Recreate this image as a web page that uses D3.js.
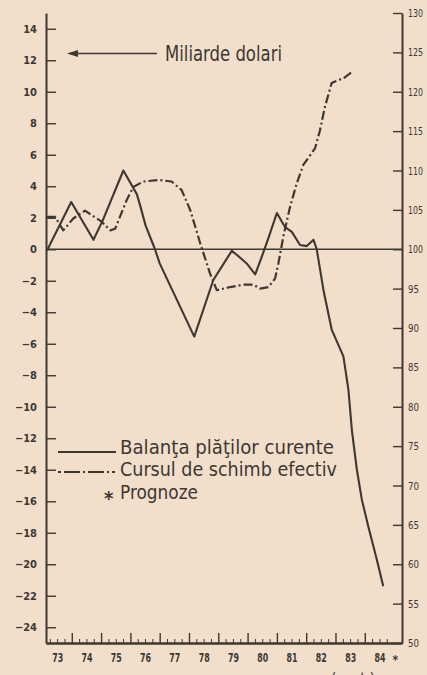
<!DOCTYPE html>
<html>
<head>
<meta charset="utf-8">
<script src="https://cdn.jsdelivr.net/npm/d3@7"></script>
<style>
  body { margin: 0; background: #f1dfcc; }
  svg { display: block; }
  text { font-family: "DejaVu Sans Condensed", "Liberation Sans Narrow", "DejaVu Sans", sans-serif; fill: #3e3732; }
</style>
</head>
<body>
<script>
// balanta platilor curente (miliarde dolari, axa stanga)
var balanceYears = [1973.15, 1973.98, 1974.74, 1975.05, 1975.76, 1976.22, 1976.33, 1976.52, 1976.84, 1977.0,
                    1978.18, 1978.83, 1979.12, 1979.46, 1979.63, 1979.97, 1980.26, 1980.48, 1980.71, 1981.0,
                    1981.28, 1981.51, 1981.79, 1982.02, 1982.25, 1982.36, 1982.59, 1982.87, 1983.27, 1983.44,
                    1983.56, 1983.73, 1983.90, 1984.12, 1984.41, 1984.63];
var balanceValues = [-0.1, 3.0, 0.6, 1.8, 5.0, 3.5, 2.8, 1.5, 0.0, -0.9,
                     -5.55, -1.95, -1.1, -0.1, -0.35, -0.9, -1.6, -0.5, 0.7, 2.3,
                     1.4, 1.1, 0.27, 0.2, 0.6, 0.0, -2.6, -5.1, -6.8, -8.9,
                     -11.5, -14.0, -15.9, -17.6, -19.7, -21.4];

// cursul de schimb efectiv (indice, axa dreapta)
var rateYears = [1973.15, 1973.43, 1973.71, 1974.05, 1974.45, 1975.02, 1975.31, 1975.48, 1975.88, 1976.10,
                 1976.44, 1976.96, 1977.41, 1977.75, 1978.04, 1978.38, 1978.72, 1978.95, 1979.40, 1979.86,
                 1980.20, 1980.43, 1980.71, 1980.94, 1981.05, 1981.22, 1981.45, 1981.68, 1981.90, 1982.30,
                 1982.47, 1982.64, 1982.87, 1983.10, 1983.27, 1983.56];
var rateValues = [104.1, 104.1, 102.4, 103.9, 104.9, 103.5, 102.4, 102.6, 106.3, 107.9,
                  108.6, 108.8, 108.6, 107.5, 105.0, 100.8, 96.9, 94.8, 95.2, 95.5,
                  95.5, 95.0, 95.2, 96.3, 98.2, 101.6, 105.4, 108.4, 110.7, 112.8,
                  115.1, 118.1, 121.1, 121.5, 121.7, 122.5];

var yearTicks = [1974, 1975, 1976, 1977, 1978, 1979, 1980, 1981, 1982, 1983, 1984];
var yearLabels = ["73", "74", "75", "76", "77", "78", "79", "80", "81", "82", "83", "84"];
var leftTicks = d3.range(-24, 15, 2);
var rightTicks = d3.range(50, 131, 5);

var width = 427,
    height = 675,
    ink = "#3e3732";

var svg = d3.select("body")
    .append("svg")
    .attr("width", width)
    .attr("height", height);

svg.append("rect")
    .attr("width", width)
    .attr("height", height)
    .attr("fill", "#f1dfcc");

//scales
var x = d3.scaleLinear().domain([1973.12, 1985.27]).range([46, 402]);
var yLeft = d3.scaleLinear().domain([-25, 15]).range([643, 13]);
var yRight = d3.scaleLinear().domain([50, 130]).range([643, 13]);

//left axis, ticks pointing inward
var leftAxis = svg.append("g")
    .attr("transform", "translate(46,0)")
    .call(d3.axisLeft(yLeft)
        .tickValues(leftTicks)
        .tickSizeInner(-10)
        .tickSizeOuter(0)
        .tickPadding(9)
        .tickFormat(function(d){ return d < 0 ? "\u2212" + Math.abs(d) : d; }));
leftAxis.selectAll("text")
    .attr("font-size", 11)
    .attr("font-weight", "bold");

//right axis
var rightAxis = svg.append("g")
    .attr("transform", "translate(402,0)")
    .call(d3.axisRight(yRight)
        .tickValues(rightTicks)
        .tickSizeInner(-9)
        .tickSizeOuter(0)
        .tickPadding(6));
rightAxis.selectAll("text")
    .attr("font-size", 11)
    .attr("textLength", 15)
    .attr("lengthAdjust", "spacingAndGlyphs");
rightAxis.selectAll("text").filter(function(d){ return d < 100; })
    .attr("textLength", 11);

//bottom axis: quarterly minor ticks, yearly major ticks, labels in the middle of the year
var quarters = d3.range(1973.25, 1985.2, 0.25).filter(function(d){ return d % 1 !== 0; });
svg.append("g")
    .attr("class", "minor")
    .attr("transform", "translate(0,643)")
    .call(d3.axisBottom(x).tickValues(quarters).tickSizeInner(-4).tickSizeOuter(0).tickFormat(""));

var bottomAxis = svg.append("g")
    .attr("transform", "translate(0,643)")
    .call(d3.axisBottom(x).tickValues(yearTicks).tickSizeInner(-10).tickSizeOuter(0).tickFormat(""));

var labelAxis = svg.append("g")
    .attr("transform", "translate(0,643)")
    .call(d3.axisBottom(x)
        .tickValues(yearLabels.map(function(d){ return 1900 + (+d) + 0.5; }))
        .tickSize(0)
        .tickPadding(10)
        .tickFormat(function(d){ return String(Math.floor(d) - 1900); }));
labelAxis.select(".domain").remove();
labelAxis.selectAll("text")
    .attr("font-size", 12.5)
    .attr("font-weight", "bold")
    .attr("textLength", 11)
    .attr("lengthAdjust", "spacingAndGlyphs");

svg.selectAll(".domain")
    .attr("stroke", ink)
    .attr("stroke-width", 2);
svg.selectAll(".tick line")
    .attr("stroke", ink)
    .attr("stroke-width", 1.4);
svg.selectAll(".minor .tick line")
    .attr("stroke-width", 1);

//forecast asterisk after 84
svg.append("text")
    .attr("x", x(1984.5) + 13)
    .attr("y", 664)
    .attr("font-size", 12)
    .attr("font-weight", "bold")
    .text("*");

svg.append("text")
    .attr("x", 331)
    .attr("y", 684)
    .attr("font-size", 15)
    .text("(sept.):");

//zero line
svg.append("line")
    .attr("x1", 46)
    .attr("x2", 402)
    .attr("y1", yLeft(0))
    .attr("y2", yLeft(0))
    .attr("stroke", ink)
    .attr("stroke-width", 1.3);

//series
var balanceLine = d3.line()
    .x(function(d, i){ return x(balanceYears[i]); })
    .y(function(d){ return yLeft(d); });

var rateLine = d3.line()
    .x(function(d, i){ return x(rateYears[i]); })
    .y(function(d){ return yRight(d); });

svg.append("path")
    .attr("d", rateLine(rateValues))
    .attr("fill", "none")
    .attr("stroke", ink)
    .attr("stroke-width", 2.2)
    .attr("stroke-dasharray", "9,3,2,3")
    .attr("stroke-linejoin", "round");

svg.append("path")
    .attr("d", balanceLine(balanceValues))
    .attr("fill", "none")
    .attr("stroke", ink)
    .attr("stroke-width", 2.1)
    .attr("stroke-linejoin", "round");

//unit note with arrow
svg.append("line")
    .attr("x1", 75)
    .attr("x2", 157)
    .attr("y1", 53.5)
    .attr("y2", 53.5)
    .attr("stroke", ink)
    .attr("stroke-width", 1.6);
svg.append("path")
    .attr("d", "M67,53.5L78,50L78,57Z")
    .attr("fill", ink);
svg.append("text")
    .attr("x", 165)
    .attr("y", 61)
    .attr("font-size", 21)
    .attr("textLength", 117)
    .attr("lengthAdjust", "spacingAndGlyphs")
    .text("Miliarde dolari");

//legend
svg.append("line")
    .attr("x1", 58).attr("x2", 116)
    .attr("y1", 452).attr("y2", 452)
    .attr("stroke", ink)
    .attr("stroke-width", 2.2);
svg.append("line")
    .attr("x1", 58).attr("x2", 118)
    .attr("y1", 472).attr("y2", 472)
    .attr("stroke", ink)
    .attr("stroke-width", 2)
    .attr("stroke-dasharray", "3,3,16,3,2,3,16,3,2");

var legendTexts = [
    {t: "Balan\u0163a pl\u0103\u0163ilor curente", x: 120, y: 454, w: 214},
    {t: "Cursul de schimb efectiv", x: 120, y: 476, w: 217},
    {t: "Prognoze", x: 120, y: 499, w: 78}
];
svg.selectAll(".legend")
    .data(legendTexts)
    .enter()
    .append("text")
    .attr("class", "legend")
    .attr("x", function(d){ return d.x; })
    .attr("y", function(d){ return d.y; })
    .attr("font-size", 19)
    .attr("textLength", function(d){ return d.w; })
    .attr("lengthAdjust", "spacingAndGlyphs")
    .text(function(d){ return d.t; });

svg.append("text")
    .attr("x", 104)
    .attr("y", 505)
    .attr("font-size", 20)
    .attr("font-weight", "bold")
    .text("*");
</script>
</body>
</html>
